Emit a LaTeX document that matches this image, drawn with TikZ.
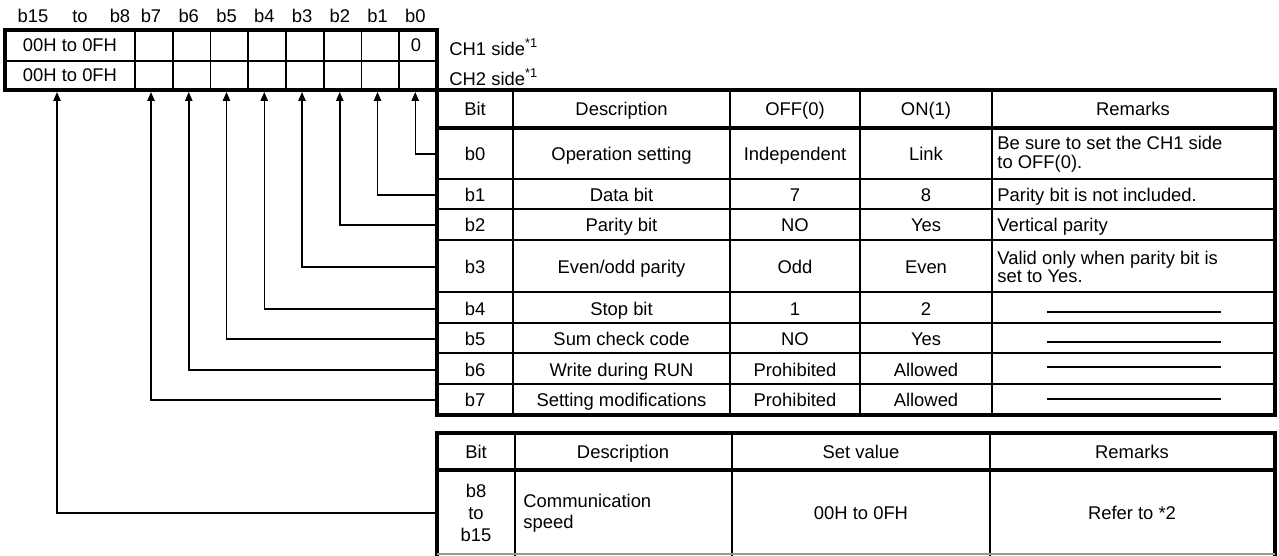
\documentclass[tikz,border=0pt]{standalone}
\usepackage{fontspec}
\setmainfont{Liberation Sans}
\usetikzlibrary{arrows.meta, positioning, calc}

\begin{document}
\begin{tikzpicture}[
		% one unit = one pixel of the reference, y runs downwards
		x=0.5pt, y=-0.5pt,
		>={Triangle[width=3.6pt, length=4.4pt]},
		cell/.style={inner sep=0pt, font=\fontsize{9.2}{9.4}\selectfont, text height=6.6pt, text depth=0pt},
		mcell/.style={inner sep=0pt, font=\fontsize{9.2}{9.4}\selectfont},
		heavy/.style={line width=2.2pt},
		light/.style={line width=0.9pt},
		sig/.style={->, line width=0.75pt}
		]
		\useasboundingbox (0,0) rectangle (1279,556);
		
		% --- 1. REGISTER (CH1 / CH2) ---
		\draw[light] (5,61) -- (437,61);
		\foreach \k in {0,...,7} {
			\draw[light] ({135+37.75*\k},30) -- ({135+37.75*\k},90);
		}
		\draw[heavy] (5,30) rectangle (437,90);
		
		\node[cell] (ch1val) at (70,45) {00H to 0FH};
		\node[cell] (ch2val) at (70,75) {00H to 0FH};
		\node[cell] (ch1bit0) at (416,45) {0};
		\node[mcell, anchor=west] (ch1) at (449,47) {CH1 side\textsuperscript{*1}};
		\node[mcell, anchor=west] (ch2) at (449,77) {CH2 side\textsuperscript{*1}};
		
		% bit labels above the register, arrow tips below it
		\node[cell] (hb15) at (33,16) {b15};
		\node[cell] (hto) at (80,16) {to};
		\node[cell] (hb8) at (120,16) {b8};
		\coordinate (tip15) at (57,92);
		\foreach \i in {0,...,7} {
			\pgfmathsetmacro{\ax}{151+37.75*(7-\i)}
			\node[cell] (hb\i) at (\ax,16) {b\i};
			\coordinate (tip\i) at (\ax,92);
		}
		
		% --- 2. TABLE OF BITS b0 TO b7 ---
		\foreach \cx in {513,730,860,992} {
			\draw[light] (\cx,90) -- (\cx,415);
		}
		\foreach \ry in {179,209,240,292,323,353,384} {
			\draw[light] (437,\ry) -- (1275,\ry);
		}
		\draw[heavy] (437,128) -- (1275,128);
		\draw[heavy] (437,90) rectangle (1275,415);
		
		\node[cell] (hbit) at (475,109) {Bit};
		\node[cell] (hdesc) at (621.5,109) {Description};
		\node[cell] (hoff) at (795,109) {OFF(0)};
		\node[cell] (hon) at (926,109) {ON(1)};
		\node[cell] (hrem) at (1133,109) {Remarks};
		
		\foreach \b/\yc/\desc/\off/\on in {
			0/154/Operation setting/Independent/Link,
			1/195/Data bit/7/8,
			2/225/Parity bit/NO/Yes,
			3/267/{Even/odd parity}/Odd/Even,
			4/309/Stop bit/1/2,
			5/339/Sum check code/NO/Yes,
			6/370/Write during RUN/Prohibited/Allowed,
			7/400/Setting modifications/Prohibited/Allowed} {
			\node[cell, minimum width=38pt] (bit\b) at (475,\yc) {b\b};
			\node[cell] (desc\b) at (621.5,\yc) {\desc};
			\node[cell] (off\b) at (795,\yc) {\off};
			\node[cell] (on\b) at (926,\yc) {\on};
		}
		
		\node[mcell, anchor=west, align=left] (rem0) at (997,154) {Be sure to set the CH1 side\\to OFF(0).};
		\node[cell, anchor=west] (rem1) at (997,195) {Parity bit is not included.};
		\node[cell, anchor=west] (rem2) at (997,225) {Vertical parity};
		\node[mcell, anchor=west, align=left] (rem3) at (997,267) {Valid only when parity bit is\\set to Yes.};
		\foreach \yc in {312,342,367,399} {
			\draw[light] (1047,\yc) -- (1221,\yc);
		}
		
		% --- 3. TABLE OF BITS b8 TO b15 ---
		\foreach \cx in {515,732,990} {
			\draw[light] (\cx,433) -- (\cx,556);
		}
		\draw[heavy] (437,470) -- (1275,470);
		\draw[heavy] (437,556) -- (437,433) -- (1275,433) -- (1275,556);
		\draw[light, black!40] (437,554) -- (1275,554);
		
		\node[cell] (lhbit) at (476,452) {Bit};
		\node[cell] (lhdesc) at (623,452) {Description};
		\node[cell] (lhset) at (861,452) {Set value};
		\node[cell] (lhrem) at (1132,452) {Remarks};
		
		\node[mcell, align=center, minimum width=39pt, font=\fontsize{9.2}{10.8}\selectfont] (bit8) at (476,513) {b8\\to\\b15};
		\node[mcell, anchor=west, align=left, font=\fontsize{9.2}{10.6}\selectfont] (desc8) at (523,513) {Communication\\speed};
		\node[cell] (set8) at (861,513) {00H to 0FH};
		\node[cell] (rem8) at (1132,513) {Refer to *2};
		
		% --- 4. CONNECTORS FROM THE TABLES UP TO THE REGISTER ---
		\foreach \b in {0,...,7} {
			\draw[sig] (bit\b.west) -| (tip\b);
		}
		\draw[sig] (bit8.west) -| (tip15);
		
	\end{tikzpicture}
\end{document}
